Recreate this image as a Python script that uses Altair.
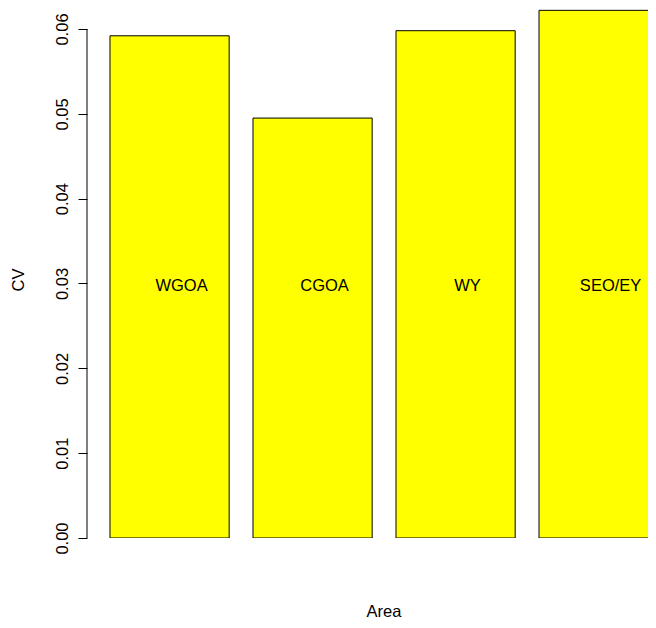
import altair as alt
import pandas as pd

# Data
areas = ["WGOA", "CGOA", "WY", "SEO/EY"]
cv_values = [0.0592, 0.0495, 0.0598, 0.0622]
y_ticks = [0.00, 0.01, 0.02, 0.03, 0.04, 0.05, 0.06]

FONT = "Liberation Sans"
FS = 16.5

df = pd.DataFrame({"area": areas, "cv": cv_values})
# R barplot layout: width 1, space 0.2
df["left"] = 0.2 + 1.2 * df.index
df["right"] = df["left"] + 1.0
df["mid"] = df["left"] + 0.5
df["base"] = 0.0
df["label_y"] = 0.0297

xscale = alt.Scale(domain=[0.0070, 4.7146], nice=False, zero=False)
yscale = alt.Scale(domain=[0, 0.062475], nice=False, zero=True)

bars = alt.Chart(df).mark_bar(
    color="#FFFF00", stroke="black", strokeWidth=1, clip=True
).encode(
    x=alt.X("left:Q", scale=xscale, axis=None),
    x2="right",
    y=alt.Y(
        "cv:Q",
        scale=yscale,
        axis=alt.Axis(
            values=y_ticks,
            format=".2f",
            domain=False,
            grid=False,
            ticks=True,
            tickSize=9,
            tickColor="black",
            tickWidth=1,
            labelAngle=270,
            labelAlign="center",
            labelBaseline="alphabetic",
            labelPadding=11,
            labelFont=FONT,
            labelFontSize=FS,
            labelColor="black",
            title=None,
        ),
    ),
    y2="base:Q",
)

axis_line = alt.Chart(pd.DataFrame({"y": [y_ticks[0]], "y2": [y_ticks[-1]]})).mark_rule(
    color="black", strokeWidth=1
).encode(
    x=alt.value(0),
    y=alt.Y("y:Q", scale=yscale),
    y2="y2",
)

labels = alt.Chart(df).mark_text(
    font=FONT, fontSize=FS, color="black", align="center", baseline="middle", dx=12
).encode(
    x=alt.X("mid:Q", scale=xscale),
    y=alt.Y("label_y:Q", scale=yscale),
    text="area:N",
)

xtitle = alt.Chart(pd.DataFrame({"t": ["Area"]})).mark_text(
    font=FONT, fontSize=FS, color="black", align="center", baseline="middle"
).encode(x=alt.value(297), y=alt.value(604), text="t:N")

ytitle = alt.Chart(pd.DataFrame({"t": ["CV"]})).mark_text(
    font=FONT, fontSize=FS, color="black", align="center", baseline="middle", angle=270
).encode(x=alt.value(-68), y=alt.value(272), text="t:N")

chart = alt.layer(bars, axis_line, labels, xtitle, ytitle).properties(
    width=561,
    height=530,
    padding={"left": 79, "top": 0, "right": 0, "bottom": 82},
    autosize=alt.AutoSizeParams(type="none"),
    background="white",
).configure_view(stroke=None)

chart.save("out.html", embed_options={"renderer": "svg", "actions": False})
